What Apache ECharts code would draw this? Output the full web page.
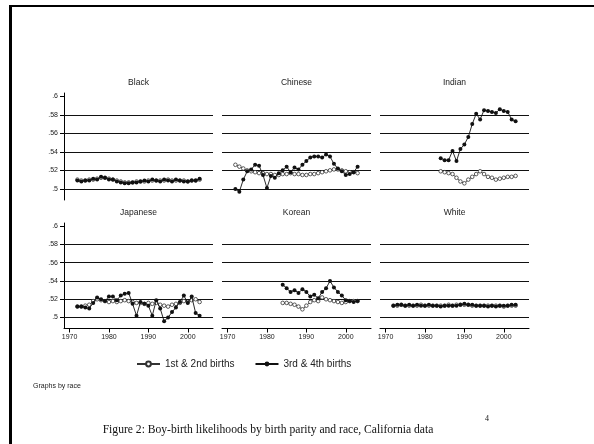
<!DOCTYPE html>
<html><head><meta charset="utf-8">
<script src="https://cdn.jsdelivr.net/npm/echarts@6/dist/echarts.min.js"></script>
<style>html,body{margin:0;padding:0;background:#fff}#c{width:594px;height:444px}</style>
</head><body><div id="c"></div>
<script>
// ---------------- data ----------------
const panels = ['Black', 'Chinese', 'Indian', 'Japanese', 'Korean', 'White'];
const seriesNames = ['1st & 2nd births', '3rd & 4th births'];
const yearsFull = [1972,1973,1974,1975,1976,1977,1978,1979,1980,1981,1982,1983,1984,1985,1986,1987,
                   1988,1989,1990,1991,1992,1993,1994,1995,1996,1997,1998,1999,2000,2001,2002,2003];
const yearsLate = [1984,1985,1986,1987,1988,1989,1990,1991,1992,1993,1994,1995,1996,1997,1998,1999,2000,2001,2002,2003];

const blackFirst = [.510,.509,.509,.510,.510,.511,.512,.512,.511,.510,.509,.508,.507,.507,.507,.508,
                    .508,.508,.509,.509,.509,.509,.509,.510,.509,.509,.509,.509,.508,.509,.509,.510];
const blackThird = [.509,.508,.509,.509,.511,.510,.513,.512,.510,.510,.508,.507,.506,.506,.507,.507,
                    .508,.509,.508,.510,.509,.508,.510,.509,.508,.510,.509,.508,.508,.509,.509,.511];
const chineseFirst = [.526,.524,.522,.520,.519,.518,.517,.517,.516,.516,.515,.515,.516,.516,.517,.516,
                      .516,.515,.515,.516,.516,.517,.518,.519,.520,.521,.521,.520,.519,.518,.518,.517];
const chineseThird = [.500,.497,.510,.519,.521,.526,.525,.515,.501,.514,.512,.517,.520,.524,.518,.523,
                      .521,.526,.530,.534,.535,.535,.534,.537,.535,.527,.522,.519,.515,.516,.518,.524];
const indianFirst = [.519,.518,.517,.516,.512,.508,.506,.510,.513,.516,.519,.516,.513,.512,.510,.511,.512,.513,.513,.514];
const indianThird = [.533,.531,.531,.541,.530,.543,.548,.556,.570,.581,.575,.585,.584,.583,.582,.586,.584,.583,.575,.573];
const japaneseFirst = [.512,.512,.513,.514,.518,.520,.519,.518,.517,.518,.517,.518,.519,.518,.517,.516,
                       .516,.515,.516,.515,.516,.514,.513,.512,.514,.515,.516,.518,.517,.519,.520,.517];
const japaneseThird = [.512,.512,.511,.510,.516,.522,.520,.518,.523,.523,.519,.524,.526,.527,.515,.502,
                       .517,.515,.513,.502,.519,.510,.496,.500,.506,.511,.517,.524,.516,.523,.505,.502];
const koreanFirst = [.516,.516,.515,.514,.512,.509,.513,.517,.519,.518,.522,.520,.519,.518,.517,.516,.517,.518,.518,.518];
const koreanThird = [.536,.532,.528,.530,.527,.531,.528,.523,.525,.521,.528,.532,.540,.533,.528,.524,.519,.518,.517,.518];
const whiteFirst = [.513,.513,.514,.513,.513,.513,.513,.514,.513,.513,.513,.513,.513,.513,.514,.513,
                    .514,.514,.514,.514,.513,.513,.513,.513,.513,.513,.513,.513,.512,.513,.513,.513];
const whiteThird = [.513,.514,.514,.513,.514,.513,.514,.513,.513,.514,.513,.513,.512,.513,.513,.513,
                    .513,.514,.515,.514,.514,.513,.513,.513,.512,.513,.512,.513,.513,.513,.514,.514];

const yTicks = [0.5, 0.52, 0.54, 0.56, 0.58, 0.6];
const gridValues = [0.5, 0.52, 0.54, 0.56, 0.58];
const xTicks = [1970, 1980, 1990, 2000];

const panelYears = [yearsFull, yearsFull, yearsLate, yearsFull, yearsLate, yearsFull];
const panelFirst = [blackFirst, chineseFirst, indianFirst, japaneseFirst, koreanFirst, whiteFirst];
const panelThird = [blackThird, chineseThird, indianThird, japaneseThird, koreanThird, whiteThird];

// ---------------- layout ----------------
const colLeft = [64, 222, 380];
const colW = 149;
const rowTop = [93, 223];
const rowH = [107, 105.5];
const X_MIN = 1968.6, X_MAX = 2006.4, Y_MIN = 0.488, Y_MAX = 0.6035;
const FONT = '"Liberation Sans", Arial, sans-serif';
const SERIF = '"Liberation Serif", "DejaVu Serif", serif';

const grids = [], xAxes = [], yAxes = [], series = [], graphics = [];
const fmtY = v => String(+v.toFixed(2)).replace(/^0/, '');
const fmtX = v => String(Math.round(v));

panels.forEach((name, i) => {
  const r = Math.floor(i / 3), c = i % 3;
  grids.push({ left: colLeft[c], top: rowTop[r], width: colW, height: rowH[r], containLabel: false });
  const bottom = r === 1;
  xAxes.push({
    type: 'value', gridIndex: i, min: X_MIN, max: X_MAX,
    show: bottom,
    axisLine: { show: bottom, lineStyle: { color: '#000', width: 1 } },
    axisTick: { show: bottom, length: 4, customValues: xTicks, lineStyle: { color: '#000' } },
    axisLabel: { show: bottom, customValues: xTicks, margin: 5, fontSize: 7, color: '#222', fontFamily: FONT, formatter: fmtX },
    splitLine: { show: false }
  });
  const left = c === 0;
  yAxes.push({
    type: 'value', gridIndex: i, min: Y_MIN, max: Y_MAX,
    show: left,
    axisLine: { show: left, lineStyle: { color: '#000', width: 1 } },
    axisTick: { show: left, length: 4, customValues: yTicks, lineStyle: { color: '#000' } },
    axisLabel: { show: left, customValues: yTicks, margin: 6, fontSize: 7, color: '#222', fontFamily: FONT, formatter: fmtY },
    splitLine: { show: false }
  });
  // gridlines
  series.push({
    type: 'line', xAxisIndex: i, yAxisIndex: i, data: [], silent: true, z: 1,
    markLine: {
      silent: true, symbol: ['none', 'none'], label: { show: false }, z: 1, animation: false,
      lineStyle: { color: '#111', width: 1, type: 'solid' },
      data: gridValues.map(v => ({ yAxis: v }))
    }
  });
  const yrs = panelYears[i];
  series.push({
    name: seriesNames[0], type: 'line', xAxisIndex: i, yAxisIndex: i, z: 3,
    data: yrs.map((y, k) => [y, panelFirst[i][k]]),
    symbol: 'circle', symbolSize: 3.6, showSymbol: true,
    lineStyle: { color: '#333', width: 0.9 },
    itemStyle: { color: '#fff', borderColor: '#333', borderWidth: 0.8 }
  });
  series.push({
    name: seriesNames[1], type: 'line', xAxisIndex: i, yAxisIndex: i, z: 4,
    data: yrs.map((y, k) => [y, panelThird[i][k]]),
    symbol: 'circle', symbolSize: 4, showSymbol: true,
    lineStyle: { color: '#111', width: 0.9 },
    itemStyle: { color: '#111', borderColor: '#111', borderWidth: 0 }
  });
  graphics.push({
    type: 'text', x: colLeft[c] + colW / 2, y: r === 0 ? 83 : 213,
    style: { text: name, fill: '#222', font: '8.5px ' + FONT, textAlign: 'center', textVerticalAlign: 'middle' }
  });
});

graphics.push(
  { type: 'line', shape: { x1: 9, y1: 6, x2: 594, y2: 6 }, style: { stroke: '#000', lineWidth: 2 } },
  { type: 'line', shape: { x1: 10.5, y1: 5, x2: 10.5, y2: 444 }, style: { stroke: '#000', lineWidth: 3 } },
  { type: 'text', x: 33, y: 386, style: { text: 'Graphs by race', font: '7px ' + FONT, fill: '#222', textVerticalAlign: 'middle' } },
  { type: 'text', x: 268, y: 430, style: { text: 'Figure 2: Boy-birth likelihoods by birth parity and race, California data', font: '11.6px ' + SERIF, fill: '#111', textAlign: 'center', textVerticalAlign: 'middle' } },
  { type: 'text', x: 487, y: 419, style: { text: '4', font: '8px ' + SERIF, fill: '#111', textAlign: 'center', textVerticalAlign: 'middle' } }
);

const chart = echarts.init(document.getElementById('c'), null, { renderer: 'canvas' });
chart.setOption({
  animation: false,
  backgroundColor: '#fff',
  grid: grids, xAxis: xAxes, yAxis: yAxes, series: series,
  legend: {
    data: seriesNames, left: 131, top: 354, itemWidth: 23, itemHeight: 6, itemGap: 20,
    textStyle: { fontSize: 10, color: '#222', fontFamily: FONT }
  },
  graphic: graphics
});
</script></body></html>
